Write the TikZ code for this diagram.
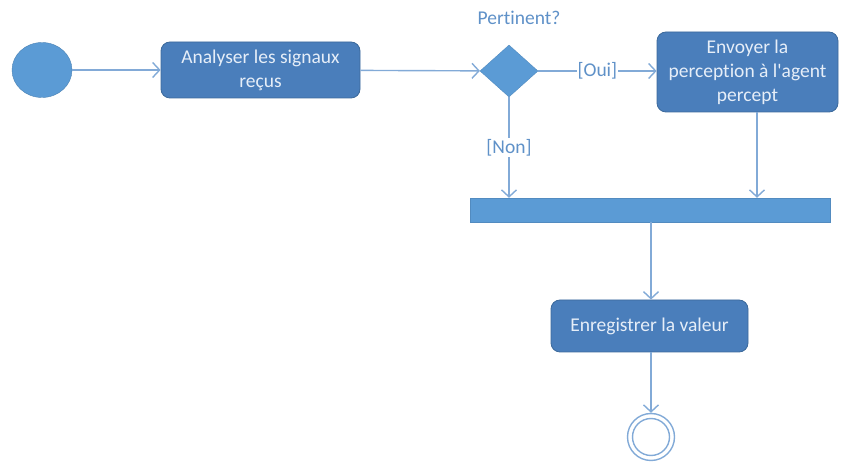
\documentclass[tikz,border=0pt]{standalone}
\usepackage{fontspec}
\setmainfont{Carlito}[Ligatures=NoCommon]
\usetikzlibrary{arrows.meta,shapes.geometric}
\definecolor{boxfill}{RGB}{74,126,187}
\definecolor{boxdraw}{RGB}{60,105,155}
\definecolor{lightfill}{RGB}{91,155,213}
\definecolor{linecol}{RGB}{130,170,215}
\definecolor{labelcol}{RGB}{95,145,200}
\definecolor{boxtext}{RGB}{230,238,248}
\tikzset{
  x=1pt,y=-1pt,
  action/.style={draw=boxdraw,line width=0.8pt,fill=boxfill,rounded corners=9pt,text=boxtext,align=center,font=\fontsize{19.5}{24}\selectfont,inner sep=0pt},
  flow/.style={draw=linecol,line width=1.4pt,-{Straight Barb[length=7pt,width=15pt]}},
  lbl/.style={text=labelcol,font=\fontsize{19.5}{21}\selectfont,fill=white,inner sep=1pt},
}
\begin{document}
\begin{tikzpicture}
\useasboundingbox (0,0) rectangle (847,470);
\node[ellipse,fill=lightfill,draw=lightfill!85!black,line width=0.4pt,minimum width=60pt,minimum height=55pt,inner sep=0pt] (start) at (42,70) {};
\node[action,minimum width=199pt,minimum height=56pt] (analyse) at (260.5,70) {Analyser les signaux\\reçus};
\node[diamond,fill=lightfill,draw=lightfill!90!black,line width=0.4pt,minimum width=58pt,minimum height=52pt,inner sep=0pt,aspect=1.1] (dec) at (509,71) {};
\node[text=labelcol,font=\fontsize{19.5}{21}\selectfont] (pert) at (519,18) {Pertinent?};
\node[action,minimum width=181pt,minimum height=80pt] (envoyer) at (747.5,72) {Envoyer la\\perception à l\textquotesingle agent\\percept};
\node[fill=lightfill,draw=lightfill!90!black,line width=0.4pt,minimum width=360pt,minimum height=24pt,inner sep=0pt] (bar) at (650,210) {};
\node[action,minimum width=197pt,minimum height=52pt] (enreg) at (649.5,326) {Enregistrer la valeur};
\node[circle,draw=linecol,line width=1.4pt,minimum size=47pt,inner sep=0pt] (final) at (651,437) {};
\node[circle,draw=linecol,line width=1.4pt,minimum size=37pt,inner sep=0pt] (finalin) at (651,437) {};

\draw[flow] (start) -- (analyse);
\draw[flow] (analyse) -- (dec);
\draw[flow] (dec) -- node[lbl] {[Oui]} (envoyer.west |- dec);
\draw[flow] (dec.south) -- node[lbl,pos=0.5] {[Non]} (dec.south |- bar.north);
\draw[flow] (envoyer.south -| 757,0) -- (757,0 |- bar.north);
\draw[flow] (651,0 |- bar.south) -- (651,0 |- enreg.north);
\draw[flow] (enreg.south -| final.north) -- (final.north);
\end{tikzpicture}
\end{document}
